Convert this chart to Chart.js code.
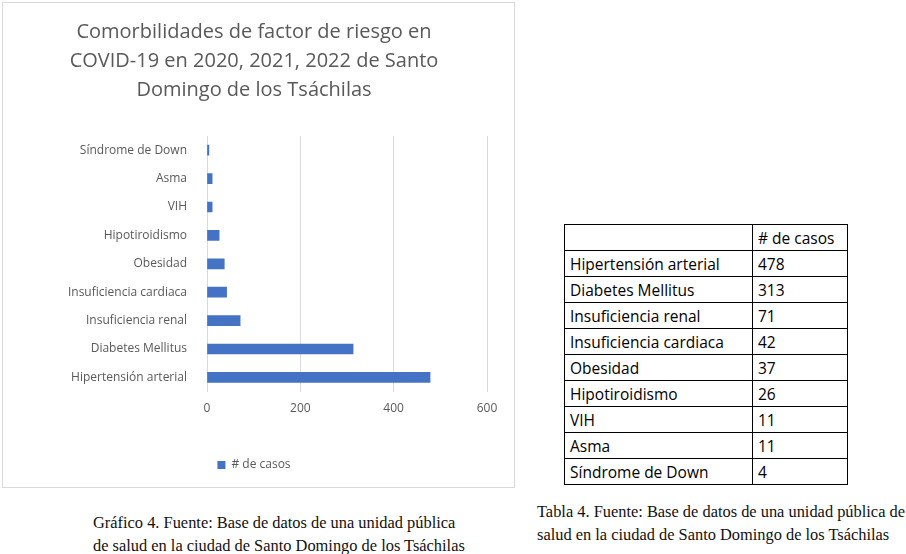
<!DOCTYPE html>
<html><head><meta charset="utf-8">
<script src="https://cdn.jsdelivr.net/npm/chart.js@4"></script>
<style>
body{margin:0;background:#fff;width:906px;height:554px;position:relative;font-family:"Liberation Sans",sans-serif;}
#box{position:absolute;left:2px;top:2px;width:513px;height:486px;border:1px solid #d9d9d9;box-sizing:border-box;}
table{position:absolute;left:564px;top:224px;border-collapse:collapse;font-family:"Open Sans",sans-serif;font-size:15.5px;}
td{border:1px solid #000;height:25px;padding:0 5px;line-height:24px;}
.cap{position:absolute;font-family:"Liberation Serif",serif;font-size:16.4px;line-height:23px;color:#111;}
</style></head><body>
<div id="box"><canvas id="c" width="511" height="484"></canvas></div>
<table id="t"></table>
<div class="cap" style="left:93px;top:511px;">Gráfico 4. Fuente: Base de datos de una unidad pública<br>de salud en la ciudad de Santo Domingo de los Tsáchilas</div>
<div class="cap" style="left:537px;top:500px;">Tabla 4. Fuente: Base de datos de una unidad pública de<br>salud en la ciudad de Santo Domingo de los Tsáchilas</div>
<script>
var categories = ['Síndrome de Down', 'Asma', 'VIH', 'Hipotiroidismo', 'Obesidad', 'Insuficiencia cardiaca', 'Insuficiencia renal', 'Diabetes Mellitus', 'Hipertensión arterial'];
var casos = [4, 11, 11, 26, 37, 42, 71, 313, 478];
var xTicks = [0, 200, 400, 600];

var t = document.getElementById('t');
var html = '<tr><td style="width:177px"></td><td style="width:84px"># de casos</td></tr>';
for (var i = categories.length - 1; i >= 0; i--) {
    html += '<tr><td>' + categories[i] + '</td><td>' + casos[i] + '</td></tr>';
}
t.innerHTML = html;

new Chart(document.getElementById('c'), {
    type: 'bar',
    data: {
        labels: categories,
        datasets: [{
            label: '# de casos',
            data: casos,
            backgroundColor: '#4472c4',
            barThickness: 10
        }]
    },
    options: {
        responsive: false,
        animation: false,
        indexAxis: 'y',
        layout: { padding: { left: 18, right: 27, top: 15, bottom: 6 } },
        plugins: {
            title: {
                display: true,
                text: ['Comorbilidades de factor de riesgo en', 'COVID-19 en 2020, 2021, 2022 de Santo', 'Domingo de los Tsáchilas'],
                color: '#595959',
                font: { family: 'Open Sans', size: 20, weight: 'normal', lineHeight: 1.45 },
                padding: { bottom: 31 }
            },
            legend: {
                position: 'bottom',
                labels: { color: '#595959', font: { family: 'Open Sans', size: 12 }, boxWidth: 8, boxHeight: 8 }
            }
        },
        scales: {
            x: {
                min: 0, max: 600,
                afterBuildTicks: function (s) { s.ticks = xTicks.map(function (v) { return { value: v }; }); },
                afterFit: function (s) { s.height += 23; },
                grid: { color: '#d9d9d9', drawTicks: false },
                border: { display: false },
                ticks: { color: '#595959', font: { family: 'Open Sans', size: 12 }, padding: 10 }
            },
            y: {
                afterFit: function (s) { s.width = 186; },
                grid: { display: false },
                border: { color: '#d9d9d9' },
                ticks: { color: '#595959', font: { family: 'Open Sans', size: 12 }, padding: 12 }
            }
        }
    }
});
</script>
</body></html>
